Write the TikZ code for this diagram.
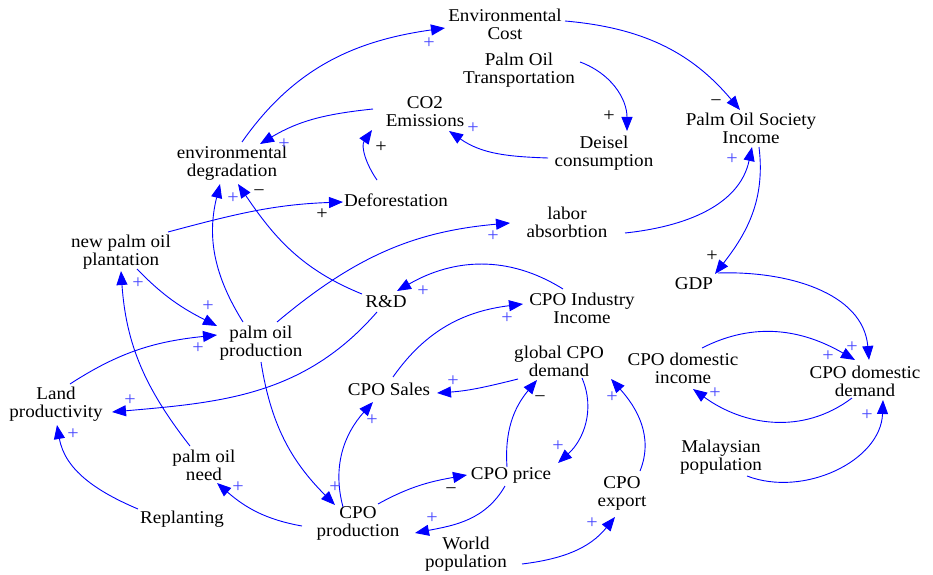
\documentclass[tikz,border=0pt]{standalone}
\usepackage{fontspec}
\setmainfont{Liberation Serif}[FakeStretch=1.06]
\usetikzlibrary{arrows.meta,calc}
\definecolor{lnk}{RGB}{0,0,255}
\definecolor{pol}{RGB}{70,70,255}
\tikzset{
  var/.style={font=\fontsize{18}{18}\selectfont, align=center, inner sep=0pt, text=black},
  link/.style={draw=lnk, line width=0.9pt, -{Triangle[length=14pt,width=11pt]}},
  polp/.style={font=\fontsize{19}{19}\selectfont, text=pol, inner sep=0pt},
  polk/.style={font=\fontsize{19}{19}\selectfont, text=black, inner sep=0pt},
}
\begin{document}
\begin{tikzpicture}[x=1pt,y=1pt]
\fill[white] (0,0) rectangle (933,574);
\useasboundingbox (0,0) rectangle (933,574);

% variables
\node[var] (envcost) at (505,550) {Environmental\\Cost};
\node[var] (transp)  at (519,504) {Palm Oil\\Transportation};
\node[var] (co2)     at (425,462) {CO2\\Emissions};
\node[var] (deisel)  at (604,421) {Deisel\\consumption};
\node[var] (posi)    at (751,446) {Palm Oil Society\\Income};
\node[var] (envdeg)  at (232,411) {environmental\\degradation};
\node[var] (defor)   at (396,374) {Deforestation};
\node[var] (newpalm) at (121,322) {new palm oil\\plantation};
\node[var] (labor)   at (567,352) {labor\\absorbtion};
\node[var] (rd)      at (386,272) {R\&D};
\node[var] (cpoii)   at (582,266) {CPO Industry\\Income};
\node[var] (gdp)     at (694,290) {GDP};
\node[var] (pop)     at (261,231) {palm oil\\production};
\node[var] (gcd)     at (559,213) {global CPO\\demand};
\node[var] (cdi)     at (683,206) {CPO domestic\\income};
\node[var] (cdd)     at (865,193) {CPO domestic\\demand};
\node[var] (sales)   at (389,185) {CPO Sales};
\node[var] (landp)   at (56,170)  {Land\\productivity};
\node[var] (need)    at (204,109) {palm oil\\need};
\node[var] (malay)   at (721,117) {Malaysian\\population};
\node[var] (cprice)  at (511,99)  {CPO price};
\node[var] (export)  at (622,81)  {CPO\\export};
\node[var] (replant) at (182,55)  {Replanting};
\node[var] (cprod)   at (358,51)  {CPO\\production};
\node[var] (world)   at (466,20)  {World\\population};

% links
\draw[link] ($(envdeg)+(10,21)$) to[out=55,in=188] ($(envcost)+(-60,-4)$);
\draw[link] ($(envcost)+(60,3)$) to[out=-5,in=130] ($(posi)+(-11,18)$);
\draw[link] ($(transp)+(61,8)$) to[out=-20,in=90] ($(deisel)+(23,22)$);
\draw[link] ($(deisel)+(-56,-5)$) to[out=178,in=-35] ($(co2)+(24,-19)$);
\draw[link] ($(co2)+(-52,3)$) to[out=186,in=31] ($(envdeg)+(28,19)$);
\draw[link] ($(defor)+(-19,20)$) to[out=125,in=235] ($(co2)+(-53,-18)$);
\draw[link] ($(newpalm)+(47,20)$) to[out=15,in=182] ($(defor)+(-53,-2)$);
\draw[link] ($(pop)+(-18,21)$) to[out=122,in=256] ($(envdeg)+(-12,-21)$);
\draw[link] ($(rd)+(-24,8)$) to[out=158,in=304] ($(envdeg)+(6,-21)$);
\draw[link] ($(pop)+(16,21)$) to[out=40,in=185] ($(labor)+(-57,-1)$);
\draw[link] ($(labor)+(58,-11)$) to[out=6,in=258] ($(posi)+(1,-19)$);
\draw[link] ($(posi)+(8,-19)$) to[out=-83,in=52] ($(gdp)+(21,10)$);
\draw[link] ($(gdp)+(24,11)$) to[out=2,in=95] ($(cdd)+(4,21)$);
\draw[link] ($(cdi)+(19,20)$) to[out=27,in=150] ($(cdd)+(-10,21)$);
\draw[link] ($(cdd)+(-13,-17)$) to[out=217,in=324] ($(cdi)+(10,-21)$);
\draw[link] ($(malay)+(26,-19)$) to[out=-21,in=268] ($(cdd)+(18,-19)$);
\draw[link] ($(cpoii)+(-19,19)$) to[out=148,in=30] ($(rd)+(11,11)$);
\draw[link] ($(newpalm)+(16,-17)$) to[out=-46,in=153] ($(pop)+(-44,17)$);
\draw[link] ($(landp)+(14,20)$) to[out=33,in=186] ($(pop)+(-44,8)$);
\draw[link] ($(rd)+(-9,-10)$) to[out=229,in=5] ($(landp)+(56,-8)$);
\draw[link] ($(need)+(-14,19)$) to[out=128,in=274] ($(newpalm)+(0,-19)$);
\draw[link] ($(replant)+(-44,10)$) to[out=157,in=280] ($(landp)+(1,-21)$);
\draw[link] ($(cprod)+(-56,-3)$) to[out=170,in=319] ($(need)+(13,-18)$);
\draw[link] ($(pop)+(0,-19)$) to[out=-81,in=135] ($(cprod)+(-23,18)$);
\draw[link] ($(cprod)+(-15,16)$) to[out=105,in=228] ($(sales)+(-16,-13)$);
\draw[link] ($(sales)+(4,12)$) to[out=55,in=187] ($(cpoii)+(-59,4)$);
\draw[link] ($(gcd)+(-41,-18)$) to[out=194,in=4] ($(sales)+(48,-4)$);
\draw[link] ($(cprod)+(20,19)$) to[out=29,in=190] ($(cprice)+(-44,0)$);
\draw[link] ($(cprice)+(-6,-11)$) to[out=240,in=11] ($(cprod)+(57,-10)$);
\draw[link] ($(cprice)+(-4,8)$) to[out=94,in=230] ($(gcd)+(-22,-19)$);
\draw[link] ($(gcd)+(23,-17)$) to[out=-67,in=42] ($(cprice)+(47,12)$);
\draw[link] ($(export)+(18,22)$) to[out=68,in=312] ($(gcd)+(52,-18)$);
\draw[link] ($(world)+(56,-10)$) to[out=7,in=231] ($(export)+(-7,-24)$);

% polarities
\node[polp] (p1)  at (429,531) {+};
\node[polk] (p2)  at (716,471) {−};
\node[polk] (p3)  at (609,458) {+};
\node[polp] (p4)  at (473,446) {+};
\node[polp] (p5)  at (284,430) {+};
\node[polk] (p6)  at (381,427) {+};
\node[polk] (p7)  at (322,360) {+};
\node[polp] (p8)  at (233,376) {+};
\node[polk] (p9)  at (259,381) {−};
\node[polp] (p10) at (493,338) {+};
\node[polp] (p11) at (732,415) {+};
\node[polk] (p12) at (712,318) {+};
\node[polp] (p13) at (852,227) {+};
\node[polp] (p14) at (828,218) {+};
\node[polp] (p15) at (715,181) {+};
\node[polp] (p16) at (867,159) {+};
\node[polp] (p17) at (423,283) {+};
\node[polp] (p18) at (208,268) {+};
\node[polp] (p19) at (198,226) {+};
\node[polp] (p20) at (130,174) {+};
\node[polp] (p21) at (138,291) {+};
\node[polp] (p22) at (73,140)  {+};
\node[polp] (p23) at (238,87)  {+};
\node[polp] (p24) at (335,87)  {+};
\node[polp] (p25) at (372,154) {+};
\node[polp] (p26) at (507,256) {+};
\node[polp] (p27) at (453,193) {+};
\node[polk] (p28) at (451,83)  {−};
\node[polp] (p29) at (432,56)  {+};
\node[polk] (p30) at (540,175) {−};
\node[polp] (p31) at (558,128) {+};
\node[polp] (p32) at (612,177) {+};
\node[polp] (p33) at (592,51)  {+};
\end{tikzpicture}
\end{document}
